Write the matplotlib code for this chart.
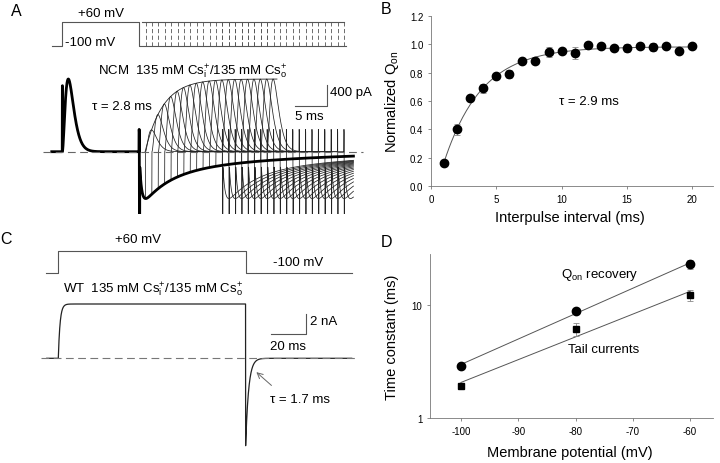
import numpy as np
import matplotlib.pyplot as plt

plt.rcParams['font.family'] = ['Liberation Sans', 'DejaVu Sans']
plt.rcParams['mathtext.fontset'] = 'custom'
plt.rcParams['mathtext.rm'] = 'Liberation Sans'
plt.rcParams['mathtext.it'] = 'Liberation Sans'
plt.rcParams['axes.unicode_minus'] = False

W, H = 720, 464

# ---------------- data ----------------
# panel B : recovery of Qon
interval_ms = [1, 2, 3, 4, 5, 6, 7, 8, 9, 10, 11, 12, 13, 14, 15, 16, 17, 18, 19, 20]
qon_norm = [0.16, 0.40, 0.62, 0.69, 0.775, 0.79, 0.88, 0.885, 0.945, 0.955,
            0.94, 0.995, 0.99, 0.975, 0.975, 0.985, 0.98, 0.985, 0.955, 0.985]
qon_err = [0.0, 0.04, 0.01, 0.03, 0.01, 0.03, 0.01, 0.02, 0.035, 0.01,
           0.04, 0.01, 0.01, 0.01, 0.03, 0.01, 0.03, 0.01, 0.02, 0.01]
tau_B = 2.9

# panel D : time constants vs potential
potential_mV = [-100, -80, -60]
tau_qon = [2.88, 8.85, 22.7]
tau_qon_err = [0.1, 0.4, 2.0]
tau_tail = [1.9, 6.1, 12.1]
tau_tail_err = [0.08, 0.8, 1.3]

# panel A : NCM gating currents, double pulse protocol
prepulse_ms = 12.0
test_interval_ms = [1, 2, 3, 4, 5, 6, 7, 8, 9, 10, 11, 12, 13, 14, 15, 16, 17, 18, 19, 20]
test_dur_ms = 12.0
on_peak_pA = 1365.0
on_peak_time_ms = 0.94
off_peak_pA = -880.0
off_fast_tau, off_slow_tau, off_fast_frac = 4.0, 20.0, 0.6
tau_A = 2.8

# panel C : WT tail current
pulse_C_ms = 107.0
plateau_nA = 5.43
rise_tau_C = 1.0
tail_peak_nA = -9.0
tau_C = 1.7

fig = plt.figure(figsize=(W / 100, H / 100), dpi=100)


def px_axes(x0, y0, x1, y1):
    return fig.add_axes([x0 / W, 1 - y1 / H, (x1 - x0) / W, (y1 - y0) / H])


def ftxt(x, y, s, size=9.5, **kw):
    fig.text(x / W, 1 - y / H, s, fontsize=size, va='center', **kw)


trace_col = '#222222'
proto_col = '#555555'

# ---------------- panel A ----------------
pxms_A = 6.4
t0_A = 62.3
base_A = 152.7
pA_per_px = 400 / 21.3
axA = px_axes(40, 55, 365, 215)
axA.set_xlim((40 - t0_A) / pxms_A, (365 - t0_A) / pxms_A)
axA.set_ylim((base_A - 215) * pA_per_px, (base_A - 55) * pA_per_px)
axA.axis('off')

dt = 0.02
t = np.arange(-1.65, 45.5, dt)


def on_shape(s):
    s = np.clip(s, 0, None)
    return (s / on_peak_time_ms) ** 2 * np.exp(2 - 2 * s / on_peak_time_ms) * (s > 0)


def off_raw(s):
    return (1 - np.exp(-s / 0.35)) * (off_fast_frac * np.exp(-s / off_fast_tau)
                                      + (1 - off_fast_frac) * np.exp(-s / off_slow_tau))


off_norm = off_raw(np.arange(0, 60, dt)).max()


def off_shape(s):
    s = np.clip(s, 0, None)
    return off_raw(s) / off_norm * (s > 0)


def artifact(s, up, down, w=0.04):
    return up * ((s >= 0) & (s < w)) + down * ((s >= w) & (s < 2.5 * w))


control = on_peak_pA * on_shape(t) * (t < prepulse_ms) + off_peak_pA * off_shape(t - prepulse_ms)
control = control + artifact(t - prepulse_ms, 450, -1050) + artifact(t, 1230, 0)

for d in test_interval_ms:
    t_on = prepulse_ms + d
    t_off = t_on + test_dur_ms
    rec = 1 - np.exp(-d / tau_A)
    y = control.copy()
    during = (t >= t_on) & (t < t_off)
    y[during] = on_peak_pA * rec * on_shape(t[during] - t_on)
    after = t >= t_off
    y[after] = off_peak_pA * off_shape(t[after] - t_off) + artifact(t[after] - t_off, 450, -1050)
    axA.plot(t, y, color=trace_col, lw=0.55)

axA.plot(t, control, color='black', lw=2.0)
d_env = np.linspace(0, 20.6, 200)
axA.plot(prepulse_ms + d_env + on_peak_time_ms, on_peak_pA * (1 - np.exp(-d_env / tau_A)),
         color=trace_col, lw=0.6)
axA.plot([(42.7 - t0_A) / pxms_A, (363 - t0_A) / pxms_A], [0, 0], color='#666666',
         lw=0.8, dashes=(7, 4))
# scale bar 400 pA / 5 ms
sb_t, sb_y = 41.3, 853
axA.plot([sb_t - 5, sb_t, sb_t], [sb_y, sb_y, sb_y + 400], color=proto_col, lw=0.8)

# protocol A
axPA = px_axes(40, 15, 365, 55)
axPA.set_xlim(axA.get_xlim())
mv_per_px = 160 / 24.3
axPA.set_ylim(-100 - 8 * mv_per_px, -100 + 32 * mv_per_px)
axPA.axis('off')
t_ons = [prepulse_ms + d for d in test_interval_ms]
t_offs = [x + test_dur_ms for x in t_ons]
axPA.plot([-1.6, 0, 0, prepulse_ms, prepulse_ms, t_offs[-1] + 0.3],
          [-100, -100, 60, 60, -100, -100], color=proto_col, lw=0.8)
axPA.plot([t_ons[0] - 0.6, t_offs[-1]], [60, 60], color=proto_col, lw=0.8)
axPA.vlines(t_ons + t_offs, -100, 60, color=proto_col, lw=0.6, linestyles=(0, (5, 3)))

ftxt(16, 11, 'A', size=11.5, ha='center')
ftxt(101, 14, '+60 mV', ha='center')
ftxt(65, 43, '-100 mV')
ftxt(98, 72, 'NCM  135 mM Cs$^{+}_{i}$/135 mM Cs$^{+}_{o}$')
ftxt(92, 107, 'τ = 2.8 ms')
ftxt(330, 93, '400 pA')
ftxt(295, 117, '5 ms')

# ---------------- panel C ----------------
pxms_C = 1.75
t0_C = 58.3
base_C = 359.3
nA_per_px = 0.1
axC = px_axes(38, 295, 360, 455)
axC.set_xlim((38 - t0_C) / pxms_C, (360 - t0_C) / pxms_C)
axC.set_ylim((base_C - 455) * nA_per_px, (base_C - 295) * nA_per_px)
axC.axis('off')
tc = np.arange(-6.6, 167.7, 0.05)
ic = np.where(tc < 0, 0.0, plateau_nA * (1 - np.exp(-np.clip(tc, 0, None) / rise_tau_C)))
ic = np.where(tc >= pulse_C_ms, tail_peak_nA * np.exp(-(tc - pulse_C_ms) / tau_C), ic)
axC.plot(tc, ic, color=trace_col, lw=0.9)
axC.plot([(40.7 - t0_C) / pxms_C, (356.7 - t0_C) / pxms_C], [0, 0], color='#777777',
         lw=0.8, dashes=(7, 4))
sbc_t, sbc_y = 141.5, 2.43
axC.plot([sbc_t - 20, sbc_t, sbc_t], [sbc_y, sbc_y, sbc_y + 2], color=proto_col, lw=0.8)
axC.annotate('', xy=(pulse_C_ms + 5.0, -1.2), xytext=(pulse_C_ms + 16.0, -2.9),
             arrowprops=dict(arrowstyle='->', color='#666666', lw=0.7))

axPC = px_axes(38, 245, 360, 280)
axPC.set_xlim(axC.get_xlim())
mv_c = 160 / 22.6
axPC.set_ylim(-100 - 5.7 * mv_c, -100 + 29.3 * mv_c)
axPC.axis('off')
axPC.plot([-7, 0, 0, pulse_C_ms, pulse_C_ms, 167.7], [-100, -100, 60, 60, -100, -100],
          color=proto_col, lw=0.8)

ftxt(6, 240, 'C', size=11.5, ha='center')
ftxt(138, 240, '+60 mV', ha='center')
ftxt(273, 263, '-100 mV')
ftxt(63, 290, 'WT  135 mM Cs$^{+}_{i}$/135 mM Cs$^{+}_{o}$')
ftxt(310, 322, '2 nA')
ftxt(270, 347, '20 ms')
ftxt(270, 400, 'τ = 1.7 ms')

# ---------------- panel B ----------------
axB = px_axes(431, 17, 713, 187)
ti = np.array(interval_ms, dtype=float)
A_fit = np.column_stack([np.ones_like(ti), -np.exp(-ti / tau_B)])
(a_B, b_B), *_ = np.linalg.lstsq(A_fit, np.array(qon_norm), rcond=None)
tf = np.linspace(1, 20, 200)
axB.plot(tf, a_B - b_B * np.exp(-tf / tau_B), color='#555555', lw=0.7)
axB.errorbar(interval_ms, qon_norm, yerr=qon_err, fmt='o', color='black', ms=6,
             ecolor='#888888', elinewidth=0.6, capsize=2, capthick=0.6)
axB.set_xlim(0, 21.6)
axB.set_ylim(0, 1.2)
axB.set_xticks([0, 5, 10, 15, 20])
axB.set_yticks(np.arange(0, 1.21, 0.2))
axB.yaxis.set_major_formatter(plt.FormatStrFormatter('%.1f'))
axB.text(9.8, 0.6, 'τ = 2.9 ms', fontsize=9.5, va='center')

# ---------------- panel D ----------------
axD = px_axes(430, 255, 713, 419)
pv = np.array(potential_mV, dtype=float)
for taus, errs, mk, ms in [(tau_qon, tau_qon_err, 'o', 6), (tau_tail, tau_tail_err, 's', 5)]:
    k, c = np.polyfit(pv, np.log10(taus), 1)
    axD.plot(pv, 10 ** (k * pv + c), color='#555555', lw=0.7)
    axD.errorbar(pv, taus, yerr=errs, fmt=mk, color='black', ms=ms, ecolor='#888888',
                 elinewidth=0.6, capsize=2, capthick=0.6)
axD.set_yscale('log')
axD.set_xlim(-105.4, -56)
axD.set_ylim(1, 28)
axD.set_xticks([-100, -90, -80, -70, -60])
axD.set_yticks([1, 10])
axD.set_yticks([], minor=True)
axD.set_yticklabels(['1', '10'])
axD.text(-82.5, 18.5, 'Q$_{on}$ recovery', fontsize=9.5, va='center')
axD.text(-81.3, 4.1, 'Tail currents', fontsize=9.5, va='center')

for ax in (axB, axD):
    for side in ('top', 'right'):
        ax.spines[side].set_visible(False)
    for side in ('left', 'bottom'):
        ax.spines[side].set_color('#777777')
        ax.spines[side].set_linewidth(0.6)
    ax.tick_params(labelsize=7, length=2.5, width=0.6, color='#777777', pad=3)

ftxt(386, 10, 'B', size=11.5, ha='center')
ftxt(386, 243, 'D', size=11.5, ha='center')
ftxt(392, 102, 'Normalized Q$_{on}$', size=10.5, rotation=90, ha='center')
ftxt(570, 218, 'Interpulse interval (ms)', size=10.5, ha='center')
ftxt(392, 337, 'Time constant (ms)', size=10.5, rotation=90, ha='center')
ftxt(570, 453, 'Membrane potential (mV)', size=10.5, ha='center')

fig.savefig('out.png', dpi=100)
